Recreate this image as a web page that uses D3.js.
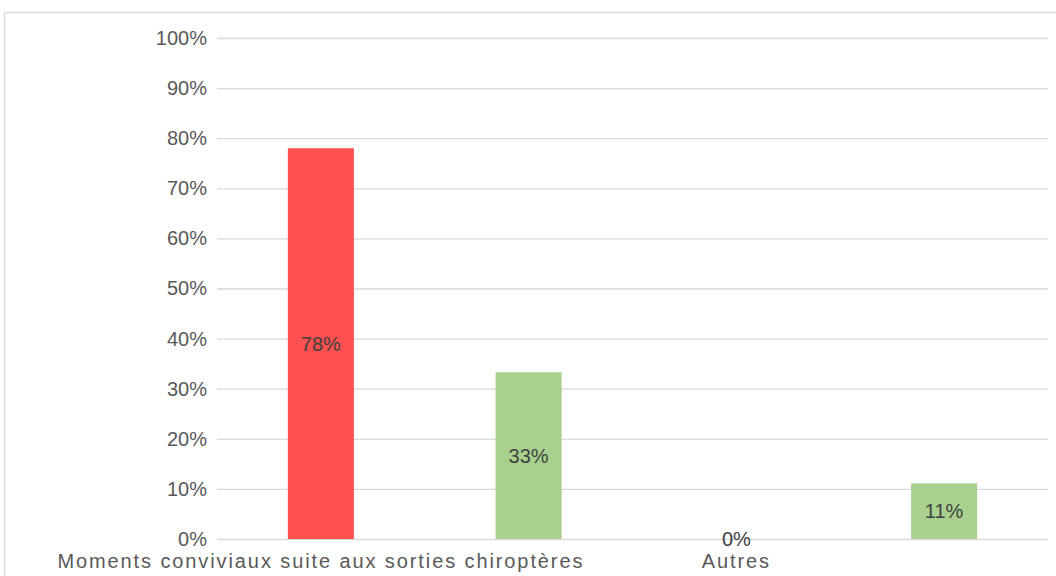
<!DOCTYPE html>
<html>
<head>
<meta charset="utf-8">
<script src="https://cdn.jsdelivr.net/npm/d3@7"></script>
<style>
  body { margin: 0; background: #fff; }
  svg text { font-family: "Liberation Sans", "DejaVu Sans", sans-serif; }
</style>
</head>
<body>
<svg id="chart" width="1056" height="576"></svg>
<script>
// data
var categories = ["Moments conviviaux suite aux sorties chiroptères", "", "Autres", ""];
var values = [0.78, 0.333, 0, 0.111];
var labels = ["78%", "33%", "0%", "11%"];
var colors = ["#FF5050", "#A9D18E", "#FF5050", "#A9D18E"];
var y_ticks = [0, 0.1, 0.2, 0.3, 0.4, 0.5, 0.6, 0.7, 0.8, 0.9, 1];

// layout
var PLOT_L = 217;
var PLOT_R = 1048;
var PLOT_T = 38;
var PLOT_B = 539;
var FONT_SZ = 20;

var svg = d3.select("#chart");

// outer chart border (runs off right / bottom)
svg.append("rect")
	.attr("x", 4.5).attr("y", 12.5)
	.attr("width", 1200).attr("height", 700)
	.attr("fill", "none")
	.attr("stroke", "#d9d9d9")
	.attr("stroke-width", 1.3);

var x = d3.scaleBand()
	.domain(d3.range(categories.length))
	.range([PLOT_L, PLOT_R])
	.paddingInner(0.682)
	.paddingOuter(0.341);

var y = d3.scaleLinear()
	.domain([0, 1])
	.range([PLOT_B, PLOT_T]);

// grid + y labels
var yAxis = d3.axisLeft(y)
	.tickValues(y_ticks)
	.tickFormat(d3.format(".0%"))
	.tickSize(-(PLOT_R - PLOT_L))
	.tickPadding(10);

var gy = svg.append("g")
	.attr("transform", "translate(" + PLOT_L + ",0)")
	.call(yAxis);
gy.select(".domain").remove();
gy.selectAll(".tick line")
	.attr("stroke", "#d9d9d9")
	.attr("stroke-width", 1.3);
gy.selectAll(".tick text")
	.attr("fill", "#595959")
	.style("font-size", FONT_SZ + "px");

// bars
svg.selectAll("rect.bar")
	.data(values)
	.enter()
	.append("rect")
	.attr("class", "bar")
	.attr("x", function(d, i){ return x(i); })
	.attr("width", x.bandwidth())
	.attr("y", function(d){ return y(d); })
	.attr("height", function(d){ return y(0) - y(d); })
	.attr("fill", function(d, i){ return colors[i]; });

// data labels, centred in the bar
svg.selectAll("text.dlabel")
	.data(values)
	.enter()
	.append("text")
	.attr("class", "dlabel")
	.attr("text-anchor", "middle")
	.attr("dominant-baseline", "central")
	.attr("x", function(d, i){ return x(i) + x.bandwidth() / 2; })
	.attr("y", function(d){ return (y(d) + y(0)) / 2; })
	.attr("fill", "#404040")
	.style("font-size", FONT_SZ + "px")
	.text(function(d, i){ return labels[i]; });

// category labels
var xAxis = d3.axisBottom(x)
	.tickFormat(function(i){ return categories[i]; })
	.tickSize(0)
	.tickPadding(0);

var gx = svg.append("g")
	.attr("transform", "translate(0," + PLOT_B + ")")
	.call(xAxis);
gx.select(".domain").remove();
gx.selectAll(".tick text")
	.attr("y", 29)
	.attr("dy", null)
	.attr("fill", "#595959")
	.style("font-size", FONT_SZ + "px")
	.style("letter-spacing", "1.9px");
</script>
</body>
</html>
